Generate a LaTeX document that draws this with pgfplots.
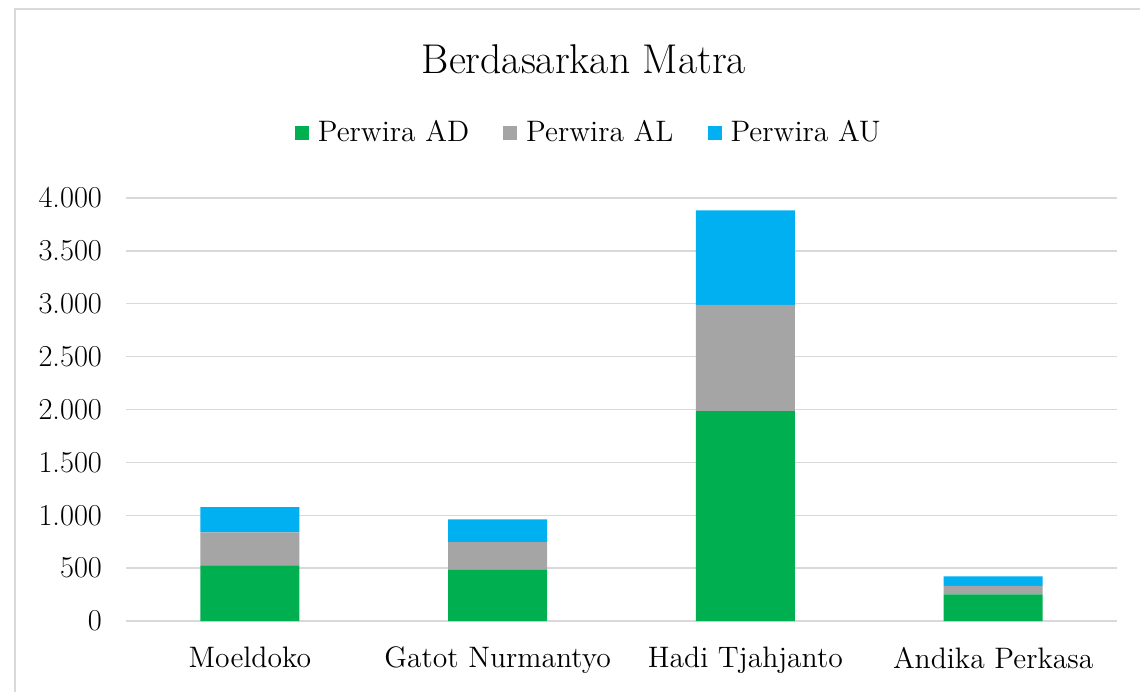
\documentclass[border=0pt]{standalone}
\usepackage{pgfplots}
\pgfplotsset{compat=1.18}
\definecolor{adgreen}{HTML}{00B050}
\definecolor{algray}{HTML}{A5A5A5}
\definecolor{aublue}{HTML}{00B0F0}
\definecolor{gridgray}{HTML}{D9D9D9}
\begin{document}
\begin{tikzpicture}
% picture frame: 1140 x 691 px at 0.5pt per px
\useasboundingbox (0,0) rectangle (570pt,345.5pt);
\draw[gridgray, line width=1pt] (7.5pt,-5pt) -- (7.5pt,340.75pt) -- (575pt,340.75pt);
\begin{axis}[
    at={(63pt,35pt)}, anchor=south west,
    scale only axis,
    width=495.5pt, height=211.5pt,
    ybar stacked,
    bar width=49.5pt,
    xmin=-0.5, xmax=3.5,
    ymin=0, ymax=4000,
    ytick={0,500,...,4000},
    xtick=data,
    xticklabels={Moeldoko, Gatot Nurmantyo, Hadi Tjahjanto, Andika Perkasa},
    ymajorgrids=true,
    grid style={gridgray, line width=0.75pt},
    axis line style={draw=none},
    major tick length=0pt,
    /pgf/number format/.cd, 1000 sep={.}, assume math mode=true, /pgfplots/.cd,
    yticklabel style={font=\fontsize{15.2}{18}\selectfont, xshift=-8.5pt},
    xticklabel style={font=\fontsize{14.8}{18}\selectfont, yshift=-9.5pt},
    title={Berdasarkan Matra},
    title style={at={(0.462,1.265)}, anchor=base, font=\fontsize{20.8}{24}\selectfont},
    legend columns=3,
    legend style={at={(0.468,1.154)}, anchor=center, draw=none, fill=none,
                  font=\fontsize{14.8}{18}\selectfont,
                  /tikz/every odd column/.append style={column sep=2.5pt},
                  /tikz/every even column/.append style={column sep=15pt}},
    legend image code/.code={\fill[#1] (0pt,-3.5pt) rectangle (7pt,3.5pt);},
]
\addplot[fill=adgreen, draw=none] coordinates {(0,525) (1,484) (2,1985) (3,252)};
\addlegendentry{Perwira AD}
\addplot[fill=algray, draw=none] coordinates {(0,313) (1,262) (2,1005) (3,81)};
\addlegendentry{Perwira AL}
\addplot[fill=aublue, draw=none] coordinates {(0,238) (1,216) (2,894) (3,88)};
\addlegendentry{Perwira AU}
\end{axis}
\end{tikzpicture}
\end{document}
